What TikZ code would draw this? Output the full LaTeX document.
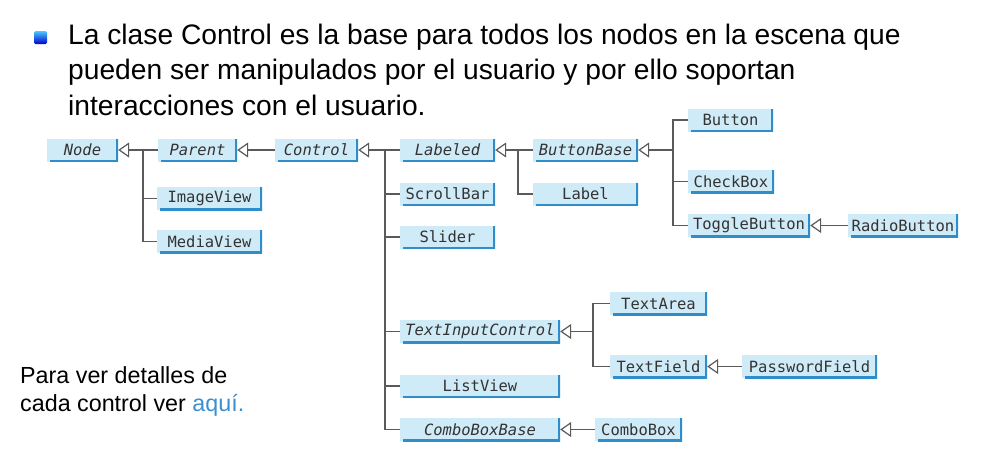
\documentclass[tikz,border=0pt]{standalone}
\usepackage{fontspec}
\setmainfont{Liberation Sans}
\newfontfamily\boxfont{DejaVu Sans Mono}
\usetikzlibrary{arrows.meta}
\definecolor{boxfill}{HTML}{D0EBF8}
\definecolor{boxshade}{HTML}{2F8DCB}
\definecolor{connc}{HTML}{5A5A5A}
\definecolor{linkc}{HTML}{3C8FCF}
\tikzset{
  cls/.style={minimum height=23pt, inner sep=0pt, fill=boxfill,
    font=\boxfont\fontsize{15.5}{17}\selectfont, text=black!80,
    path picture={\draw[boxshade, line width=4pt]
      (path picture bounding box.north east) -- (path picture bounding box.south east)
      -- ([xshift=3pt]path picture bounding box.south west);}},
  abs/.style={cls, font=\boxfont\itshape\fontsize{15.5}{17}\selectfont},
  conn/.style={draw=connc, line width=1.2pt},
  inh/.style={conn, ->},
  titletext/.style={anchor=base west, inner sep=0pt, font=\fontsize{28.2}{35}\selectfont},
  notetext/.style={anchor=base west, inner sep=0pt, font=\fontsize{23.3}{28}\selectfont}
}
\begin{document}
\begin{tikzpicture}[x=1pt, y=-1pt, >={Triangle[open, length=11pt, width=15pt]}]
\useasboundingbox (0,0) rectangle (986,463);
% bullet and title
\node[minimum size=13pt, inner sep=0pt, rounded corners=1.5pt, top color=blue!30!cyan!70!white, bottom color=blue!80!black, draw=none] (bullet) at (40.5,37.5) {};
\node[titletext] (t1) at (68,45) {La clase Control es la base para todos los nodos en la escena que};
\node[titletext] (t2) at (68,79) {pueden ser manipulados por el usuario y por ello soportan};
\node[titletext] (t3) at (68,115) {interacciones con el usuario.};
\node[notetext] (n1) at (20,383) {Para ver detalles de};
\node[notetext] (n2) at (20,411) {cada control ver \textcolor{linkc}{aquí.}};
% classes
\node[abs, minimum width=71pt] (Node) at (82.5,150) {Node};
\node[abs, minimum width=79pt] (Parent) at (197.5,150) {Parent};
\node[abs, minimum width=83pt] (Control) at (316.5,150) {Control};
\node[cls, minimum width=105pt] (ImageView) at (209.5,198.5) {ImageView};
\node[cls, minimum width=105pt] (MediaView) at (209.5,241.5) {MediaView};
\node[abs, minimum width=95pt] (Labeled) at (447.5,150) {Labeled};
\node[cls, minimum width=95pt] (ScrollBar) at (447.5,194) {ScrollBar};
\node[cls, minimum width=95pt] (Slider) at (447.5,237) {Slider};
\node[abs, minimum width=105pt] (ButtonBase) at (585.5,150) {ButtonBase};
\node[cls, minimum width=105pt] (Label) at (585.5,194) {Label};
\node[cls, minimum width=85pt] (Button) at (730.5,120) {Button};
\node[cls, minimum width=86pt] (CheckBox) at (731,181.5) {CheckBox};
\node[cls, minimum width=122pt] (ToggleButton) at (749,225.5) {ToggleButton};
\node[cls, minimum width=110pt] (RadioButton) at (903,225.5) {RadioButton};
\node[cls, minimum width=97pt] (TextArea) at (658.5,303.5) {TextArea};
\node[abs, minimum width=160pt] (TextInputControl) at (480,331.5) {TextInputControl};
\node[cls, minimum width=97pt] (TextField) at (658.5,366.5) {TextField};
\node[cls, minimum width=135pt] (PasswordField) at (809.5,366.5) {PasswordField};
\node[cls, minimum width=160pt] (ListView) at (480,386) {ListView};
\node[abs, minimum width=160pt] (ComboBoxBase) at (480,429.5) {ComboBoxBase};
\node[cls, minimum width=87pt] (ComboBox) at (638.5,429.5) {ComboBox};
% trunks
\coordinate (tParent) at (143,150);
\coordinate (tControl) at (385,150);
\coordinate (tLabeled) at (518,150);
\coordinate (tButtonBase) at (673,150);
\coordinate (tTIC) at (593,331.5);
% connectors
\draw[inh] (Parent.west) -- (Node.east);
\draw[conn] (tParent) |- (MediaView.west);
\draw[conn] (ImageView.west) -- (ImageView.west -| tParent);
\draw[inh] (Control.west) -- (Parent.east);
\draw[inh] (Labeled.west) -- (Control.east);
\draw[conn] (tControl) |- (ComboBoxBase.west);
\draw[conn] (ScrollBar.west) -- (ScrollBar.west -| tControl);
\draw[conn] (Slider.west) -- (Slider.west -| tControl);
\draw[conn] (TextInputControl.west) -- (TextInputControl.west -| tControl);
\draw[conn] (ListView.west) -- (ListView.west -| tControl);
\draw[inh] (ButtonBase.west) -- (Labeled.east);
\draw[conn] (tLabeled) |- (Label.west);
\draw[inh] (tButtonBase) -- (ButtonBase.east);
\draw[conn] (Button.west) -- (Button.west -| tButtonBase) -- (ToggleButton.west -| tButtonBase) -- (ToggleButton.west);
\draw[conn] (CheckBox.west) -- (CheckBox.west -| tButtonBase);
\draw[inh] (RadioButton.west) -- (ToggleButton.east);
\draw[inh] (tTIC) -- (TextInputControl.east);
\draw[conn] (TextArea.west) -- (TextArea.west -| tTIC) -- (TextField.west -| tTIC) -- (TextField.west);
\draw[inh] (PasswordField.west) -- (TextField.east);
\draw[inh] (ComboBox.west) -- (ComboBoxBase.east);
\end{tikzpicture}
\end{document}
